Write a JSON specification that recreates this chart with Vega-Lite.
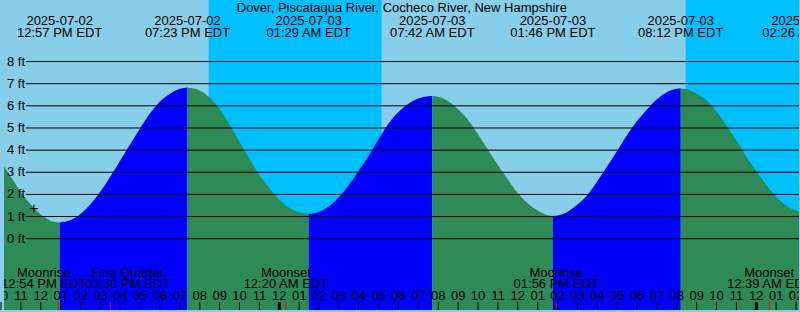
{
  "$schema": "https://vega.github.io/schema/vega-lite/v6.json",
  "width": 800,
  "height": 312,
  "autosize": {"type": "fit", "contains": "padding"},
  "padding": 0,
  "background": "#87CEEB",
  "config": {
    "view": {"stroke": null},
    "axis": {"disable": true},
    "text": {"font": "Liberation Sans", "fontSize": 13, "color": "black"}
  },
  "datasets": {
    "nights": [
      {"t": "2025-07-02T20:27", "t2": "2025-07-03T05:09"},
      {"t": "2025-07-03T20:27", "t2": "2025-07-04T03:00"}
    ],
    "tide": [
      {"t": "2025-07-02T10:00", "ft": 3.45, "seg": 1, "phase": "falling"},
      {"t": "2025-07-02T10:30", "ft": 2.8, "seg": 1, "phase": "falling"},
      {"t": "2025-07-02T11:00", "ft": 2.1, "seg": 1, "phase": "falling"},
      {"t": "2025-07-02T11:30", "ft": 1.54, "seg": 1, "phase": "falling"},
      {"t": "2025-07-02T12:00", "ft": 1.09, "seg": 1, "phase": "falling"},
      {"t": "2025-07-02T12:30", "ft": 0.81, "seg": 1, "phase": "falling"},
      {"t": "2025-07-02T12:57", "ft": 0.73, "seg": 1, "phase": "falling"},
      {"t": "2025-07-02T12:57", "ft": 0.73, "seg": 2, "phase": "rising"},
      {"t": "2025-07-02T13:30", "ft": 0.84, "seg": 2, "phase": "rising"},
      {"t": "2025-07-02T14:00", "ft": 1.12, "seg": 2, "phase": "rising"},
      {"t": "2025-07-02T14:30", "ft": 1.56, "seg": 2, "phase": "rising"},
      {"t": "2025-07-02T15:00", "ft": 2.13, "seg": 2, "phase": "rising"},
      {"t": "2025-07-02T15:30", "ft": 2.8, "seg": 2, "phase": "rising"},
      {"t": "2025-07-02T16:00", "ft": 3.53, "seg": 2, "phase": "rising"},
      {"t": "2025-07-02T16:30", "ft": 4.27, "seg": 2, "phase": "rising"},
      {"t": "2025-07-02T17:00", "ft": 4.99, "seg": 2, "phase": "rising"},
      {"t": "2025-07-02T17:30", "ft": 5.66, "seg": 2, "phase": "rising"},
      {"t": "2025-07-02T18:00", "ft": 6.2, "seg": 2, "phase": "rising"},
      {"t": "2025-07-02T18:30", "ft": 6.55, "seg": 2, "phase": "rising"},
      {"t": "2025-07-02T19:00", "ft": 6.775, "seg": 2, "phase": "rising"},
      {"t": "2025-07-02T19:23", "ft": 6.83, "seg": 2, "phase": "rising"},
      {"t": "2025-07-02T19:23", "ft": 6.83, "seg": 3, "phase": "falling"},
      {"t": "2025-07-02T20:00", "ft": 6.69, "seg": 3, "phase": "falling"},
      {"t": "2025-07-02T20:30", "ft": 6.37, "seg": 3, "phase": "falling"},
      {"t": "2025-07-02T21:00", "ft": 5.86, "seg": 3, "phase": "falling"},
      {"t": "2025-07-02T21:30", "ft": 5.16, "seg": 3, "phase": "falling"},
      {"t": "2025-07-02T22:00", "ft": 4.38, "seg": 3, "phase": "falling"},
      {"t": "2025-07-02T22:30", "ft": 3.6, "seg": 3, "phase": "falling"},
      {"t": "2025-07-02T23:00", "ft": 2.88, "seg": 3, "phase": "falling"},
      {"t": "2025-07-02T23:30", "ft": 2.29, "seg": 3, "phase": "falling"},
      {"t": "2025-07-03T00:00", "ft": 1.77, "seg": 3, "phase": "falling"},
      {"t": "2025-07-03T00:30", "ft": 1.4, "seg": 3, "phase": "falling"},
      {"t": "2025-07-03T01:00", "ft": 1.19, "seg": 3, "phase": "falling"},
      {"t": "2025-07-03T01:29", "ft": 1.12, "seg": 3, "phase": "falling"},
      {"t": "2025-07-03T01:29", "ft": 1.12, "seg": 4, "phase": "rising"},
      {"t": "2025-07-03T02:00", "ft": 1.21, "seg": 4, "phase": "rising"},
      {"t": "2025-07-03T02:30", "ft": 1.46, "seg": 4, "phase": "rising"},
      {"t": "2025-07-03T03:00", "ft": 1.87, "seg": 4, "phase": "rising"},
      {"t": "2025-07-03T03:30", "ft": 2.42, "seg": 4, "phase": "rising"},
      {"t": "2025-07-03T04:00", "ft": 3.07, "seg": 4, "phase": "rising"},
      {"t": "2025-07-03T04:30", "ft": 3.75, "seg": 4, "phase": "rising"},
      {"t": "2025-07-03T05:00", "ft": 4.5, "seg": 4, "phase": "rising"},
      {"t": "2025-07-03T05:30", "ft": 5.2, "seg": 4, "phase": "rising"},
      {"t": "2025-07-03T06:00", "ft": 5.72, "seg": 4, "phase": "rising"},
      {"t": "2025-07-03T06:30", "ft": 6.1, "seg": 4, "phase": "rising"},
      {"t": "2025-07-03T07:00", "ft": 6.33, "seg": 4, "phase": "rising"},
      {"t": "2025-07-03T07:30", "ft": 6.43, "seg": 4, "phase": "rising"},
      {"t": "2025-07-03T07:42", "ft": 6.44, "seg": 4, "phase": "rising"},
      {"t": "2025-07-03T07:42", "ft": 6.44, "seg": 5, "phase": "falling"},
      {"t": "2025-07-03T08:00", "ft": 6.41, "seg": 5, "phase": "falling"},
      {"t": "2025-07-03T08:30", "ft": 6.21, "seg": 5, "phase": "falling"},
      {"t": "2025-07-03T09:00", "ft": 5.85, "seg": 5, "phase": "falling"},
      {"t": "2025-07-03T09:30", "ft": 5.36, "seg": 5, "phase": "falling"},
      {"t": "2025-07-03T10:00", "ft": 4.72, "seg": 5, "phase": "falling"},
      {"t": "2025-07-03T10:30", "ft": 4.02, "seg": 5, "phase": "falling"},
      {"t": "2025-07-03T11:00", "ft": 3.33, "seg": 5, "phase": "falling"},
      {"t": "2025-07-03T11:30", "ft": 2.67, "seg": 5, "phase": "falling"},
      {"t": "2025-07-03T12:00", "ft": 2.05, "seg": 5, "phase": "falling"},
      {"t": "2025-07-03T12:30", "ft": 1.6, "seg": 5, "phase": "falling"},
      {"t": "2025-07-03T13:00", "ft": 1.27, "seg": 5, "phase": "falling"},
      {"t": "2025-07-03T13:30", "ft": 1.06, "seg": 5, "phase": "falling"},
      {"t": "2025-07-03T13:46", "ft": 1.03, "seg": 5, "phase": "falling"},
      {"t": "2025-07-03T13:46", "ft": 1.03, "seg": 6, "phase": "rising"},
      {"t": "2025-07-03T14:00", "ft": 1.05, "seg": 6, "phase": "rising"},
      {"t": "2025-07-03T14:30", "ft": 1.21, "seg": 6, "phase": "rising"},
      {"t": "2025-07-03T15:00", "ft": 1.54, "seg": 6, "phase": "rising"},
      {"t": "2025-07-03T15:30", "ft": 1.97, "seg": 6, "phase": "rising"},
      {"t": "2025-07-03T16:00", "ft": 2.6, "seg": 6, "phase": "rising"},
      {"t": "2025-07-03T16:30", "ft": 3.27, "seg": 6, "phase": "rising"},
      {"t": "2025-07-03T17:00", "ft": 3.96, "seg": 6, "phase": "rising"},
      {"t": "2025-07-03T17:30", "ft": 4.68, "seg": 6, "phase": "rising"},
      {"t": "2025-07-03T18:00", "ft": 5.31, "seg": 6, "phase": "rising"},
      {"t": "2025-07-03T18:30", "ft": 5.84, "seg": 6, "phase": "rising"},
      {"t": "2025-07-03T19:00", "ft": 6.3, "seg": 6, "phase": "rising"},
      {"t": "2025-07-03T19:30", "ft": 6.61, "seg": 6, "phase": "rising"},
      {"t": "2025-07-03T20:00", "ft": 6.77, "seg": 6, "phase": "rising"},
      {"t": "2025-07-03T20:12", "ft": 6.78, "seg": 6, "phase": "rising"},
      {"t": "2025-07-03T20:12", "ft": 6.78, "seg": 7, "phase": "falling"},
      {"t": "2025-07-03T20:30", "ft": 6.75, "seg": 7, "phase": "falling"},
      {"t": "2025-07-03T21:00", "ft": 6.56, "seg": 7, "phase": "falling"},
      {"t": "2025-07-03T21:30", "ft": 6.25, "seg": 7, "phase": "falling"},
      {"t": "2025-07-03T22:00", "ft": 5.75, "seg": 7, "phase": "falling"},
      {"t": "2025-07-03T22:30", "ft": 5.12, "seg": 7, "phase": "falling"},
      {"t": "2025-07-03T23:00", "ft": 4.43, "seg": 7, "phase": "falling"},
      {"t": "2025-07-03T23:30", "ft": 3.71, "seg": 7, "phase": "falling"},
      {"t": "2025-07-04T00:00", "ft": 3.05, "seg": 7, "phase": "falling"},
      {"t": "2025-07-04T00:30", "ft": 2.45, "seg": 7, "phase": "falling"},
      {"t": "2025-07-04T01:00", "ft": 1.9, "seg": 7, "phase": "falling"},
      {"t": "2025-07-04T01:30", "ft": 1.5, "seg": 7, "phase": "falling"},
      {"t": "2025-07-04T02:00", "ft": 1.27, "seg": 7, "phase": "falling"},
      {"t": "2025-07-04T02:26", "ft": 1.2, "seg": 7, "phase": "falling"}
    ],
    "grid": [
      {"ft": 0, "label": "0 ft"}, {"ft": 1, "label": "1 ft"}, {"ft": 2, "label": "2 ft"},
      {"ft": 3, "label": "3 ft"}, {"ft": 4, "label": "4 ft"}, {"ft": 5, "label": "5 ft"},
      {"ft": 6, "label": "6 ft"}, {"ft": 7, "label": "7 ft"}, {"ft": 8, "label": "8 ft"}
    ],
    "now": [{"t": "2025-07-02T11:39", "ft": 1.36}],
    "extremes": [
      {"t": "2025-07-02T12:57", "date": "2025-07-02", "time": "12:57 PM EDT"},
      {"t": "2025-07-02T19:23", "date": "2025-07-02", "time": "07:23 PM EDT"},
      {"t": "2025-07-03T01:29", "date": "2025-07-03", "time": "01:29 AM EDT"},
      {"t": "2025-07-03T07:42", "date": "2025-07-03", "time": "07:42 AM EDT"},
      {"t": "2025-07-03T13:46", "date": "2025-07-03", "time": "01:46 PM EDT"},
      {"t": "2025-07-03T20:12", "date": "2025-07-03", "time": "08:12 PM EDT"},
      {"t": "2025-07-04T02:26", "date": "2025-07-04", "time": "02:26 AM EDT"}
    ],
    "moon": [
      {"t": "2025-07-02T12:54", "lx": "2025-07-02T12:09", "ev": "Moonrise", "time": "12:54 PM EDT"},
      {"t": "2025-07-02T15:30", "lx": "2025-07-02T16:22", "ev": "First Quarter", "time": "03:30 PM EDT"},
      {"t": "2025-07-03T00:20", "lx": "2025-07-03T00:20", "ev": "Moonset", "time": "12:20 AM EDT"},
      {"t": "2025-07-03T13:56", "lx": "2025-07-03T13:56", "ev": "Moonrise", "time": "01:56 PM EDT"},
      {"t": "2025-07-04T00:39", "lx": "2025-07-04T00:39", "ev": "Moonset", "time": "12:39 AM EDT"}
    ],
    "hours": [
      {"t": "2025-07-02T10:00"}, {"t": "2025-07-02T11:00"}, {"t": "2025-07-02T12:00"}, {"t": "2025-07-02T13:00"},
      {"t": "2025-07-02T14:00"}, {"t": "2025-07-02T15:00"}, {"t": "2025-07-02T16:00"}, {"t": "2025-07-02T17:00"},
      {"t": "2025-07-02T18:00"}, {"t": "2025-07-02T19:00"}, {"t": "2025-07-02T20:00"}, {"t": "2025-07-02T21:00"},
      {"t": "2025-07-02T22:00"}, {"t": "2025-07-02T23:00"},
      {"t": "2025-07-03T00:00"}, {"t": "2025-07-03T01:00"}, {"t": "2025-07-03T02:00"}, {"t": "2025-07-03T03:00"},
      {"t": "2025-07-03T04:00"}, {"t": "2025-07-03T05:00"}, {"t": "2025-07-03T06:00"}, {"t": "2025-07-03T07:00"},
      {"t": "2025-07-03T08:00"}, {"t": "2025-07-03T09:00"}, {"t": "2025-07-03T10:00"}, {"t": "2025-07-03T11:00"},
      {"t": "2025-07-03T12:00"}, {"t": "2025-07-03T13:00"}, {"t": "2025-07-03T14:00"}, {"t": "2025-07-03T15:00"},
      {"t": "2025-07-03T16:00"}, {"t": "2025-07-03T17:00"}, {"t": "2025-07-03T18:00"}, {"t": "2025-07-03T19:00"},
      {"t": "2025-07-03T20:00"}, {"t": "2025-07-03T21:00"}, {"t": "2025-07-03T22:00"}, {"t": "2025-07-03T23:00"},
      {"t": "2025-07-04T00:00"}, {"t": "2025-07-04T01:00"}, {"t": "2025-07-04T02:00"}
    ]
  },
  "layer": [
    {
      "data": {"name": "nights"},
      "mark": {"type": "rect", "color": "#00BFFF", "clip": true},
      "encoding": {
        "x": {"field": "t", "type": "temporal", "scale": {"domain": [{"year": 2025, "month": 7, "date": 2, "hours": 10, "minutes": 9}, {"year": 2025, "month": 7, "date": 4, "hours": 2, "minutes": 9}], "nice": false, "padding": 0}},
        "x2": {"field": "t2"}
      }
    },
    {
      "data": {"name": "tide"},
      "mark": {"type": "area", "interpolate": "monotone", "clip": true},
      "encoding": {
        "x": {"field": "t", "type": "temporal"},
        "y": {"field": "ft", "type": "quantitative", "stack": null, "scale": {"domain": [-3.22, 10.78], "nice": false, "zero": false}},
        "y2": {"datum": -3.22},
        "color": {"field": "phase", "type": "nominal", "scale": {"domain": ["falling", "rising"], "range": ["#2E8B57", "#0000FF"]}, "legend": null},
        "detail": {"field": "seg", "type": "nominal"}
      }
    },
    {
      "data": {"name": "grid"},
      "mark": {"type": "rule", "color": "black", "strokeWidth": 1},
      "encoding": {
        "y": {"field": "ft", "type": "quantitative"},
        "x": {"datum": {"year": 2025, "month": 7, "date": 2, "hours": 11, "minutes": 15}, "type": "temporal"},
        "x2": {"datum": {"year": 2025, "month": 7, "date": 4, "hours": 2, "minutes": 9}}
      }
    },
    {
      "data": {"name": "grid"},
      "mark": {"type": "text", "align": "left", "baseline": "middle", "clip": true},
      "encoding": {
        "y": {"field": "ft", "type": "quantitative"},
        "x": {"datum": {"year": 2025, "month": 7, "date": 2, "hours": 10, "minutes": 18}, "type": "temporal"},
        "text": {"field": "label"}
      }
    },
    {
      "data": {"name": "now"},
      "mark": {"type": "point", "shape": "M-1,0H1M0,-1V1", "size": 64, "filled": false, "stroke": "black", "strokeWidth": 1, "opacity": 1},
      "encoding": {
        "x": {"field": "t", "type": "temporal"},
        "y": {"field": "ft", "type": "quantitative"}
      }
    },
    {
      "data": {"name": "extremes"},
      "mark": {"type": "text", "align": "center", "baseline": "middle", "clip": true},
      "encoding": {
        "x": {"field": "t", "type": "temporal"},
        "y": {"datum": 9.85},
        "text": {"field": "date"}
      }
    },
    {
      "data": {"name": "extremes"},
      "mark": {"type": "text", "align": "center", "baseline": "middle", "clip": true},
      "encoding": {
        "x": {"field": "t", "type": "temporal"},
        "y": {"datum": 9.31},
        "text": {"field": "time"}
      }
    },
    {
      "data": {"values": [{"name": "Dover, Piscataqua River, Cocheco River, New Hampshire"}]},
      "mark": {"type": "text", "align": "center", "baseline": "middle", "clip": true},
      "encoding": {
        "x": {"datum": {"year": 2025, "month": 7, "date": 3, "hours": 6, "minutes": 10}, "type": "temporal"},
        "y": {"datum": 10.4},
        "text": {"field": "name"}
      }
    },
    {
      "data": {"name": "moon"},
      "mark": {"type": "text", "align": "center", "baseline": "middle", "clip": true},
      "encoding": {
        "x": {"field": "lx", "type": "temporal"},
        "y": {"datum": -1.55},
        "text": {"field": "ev"}
      }
    },
    {
      "data": {"name": "moon"},
      "mark": {"type": "text", "align": "center", "baseline": "middle", "clip": true},
      "encoding": {
        "x": {"field": "lx", "type": "temporal"},
        "y": {"datum": -2.06},
        "text": {"field": "time"}
      }
    },
    {
      "data": {"name": "hours"},
      "mark": {"type": "text", "align": "center", "baseline": "middle", "clip": true},
      "encoding": {
        "x": {"field": "t", "type": "temporal"},
        "y": {"datum": -2.58},
        "text": {"field": "t", "type": "temporal", "format": "%I"}
      }
    },
    {
      "data": {"name": "hours"},
      "mark": {"type": "rule", "color": "black", "strokeWidth": 1},
      "encoding": {
        "x": {"field": "t", "type": "temporal"},
        "y": {"datum": -2.86},
        "y2": {"datum": -3.22}
      }
    },
    {
      "data": {"name": "hours"},
      "transform": [{"filter": {"timeUnit": "hours", "field": "t", "equal": 0}}],
      "mark": {"type": "rule", "color": "black", "strokeWidth": 3},
      "encoding": {
        "x": {"field": "t", "type": "temporal"},
        "y": {"datum": -2.86},
        "y2": {"datum": -3.22}
      }
    },
    {
      "data": {"name": "moon"},
      "mark": {"type": "rule", "color": "#FF0000", "strokeWidth": 1},
      "encoding": {
        "x": {"field": "t", "type": "temporal"},
        "y": {"datum": -2.86},
        "y2": {"datum": -3.22}
      }
    }
  ]
}
